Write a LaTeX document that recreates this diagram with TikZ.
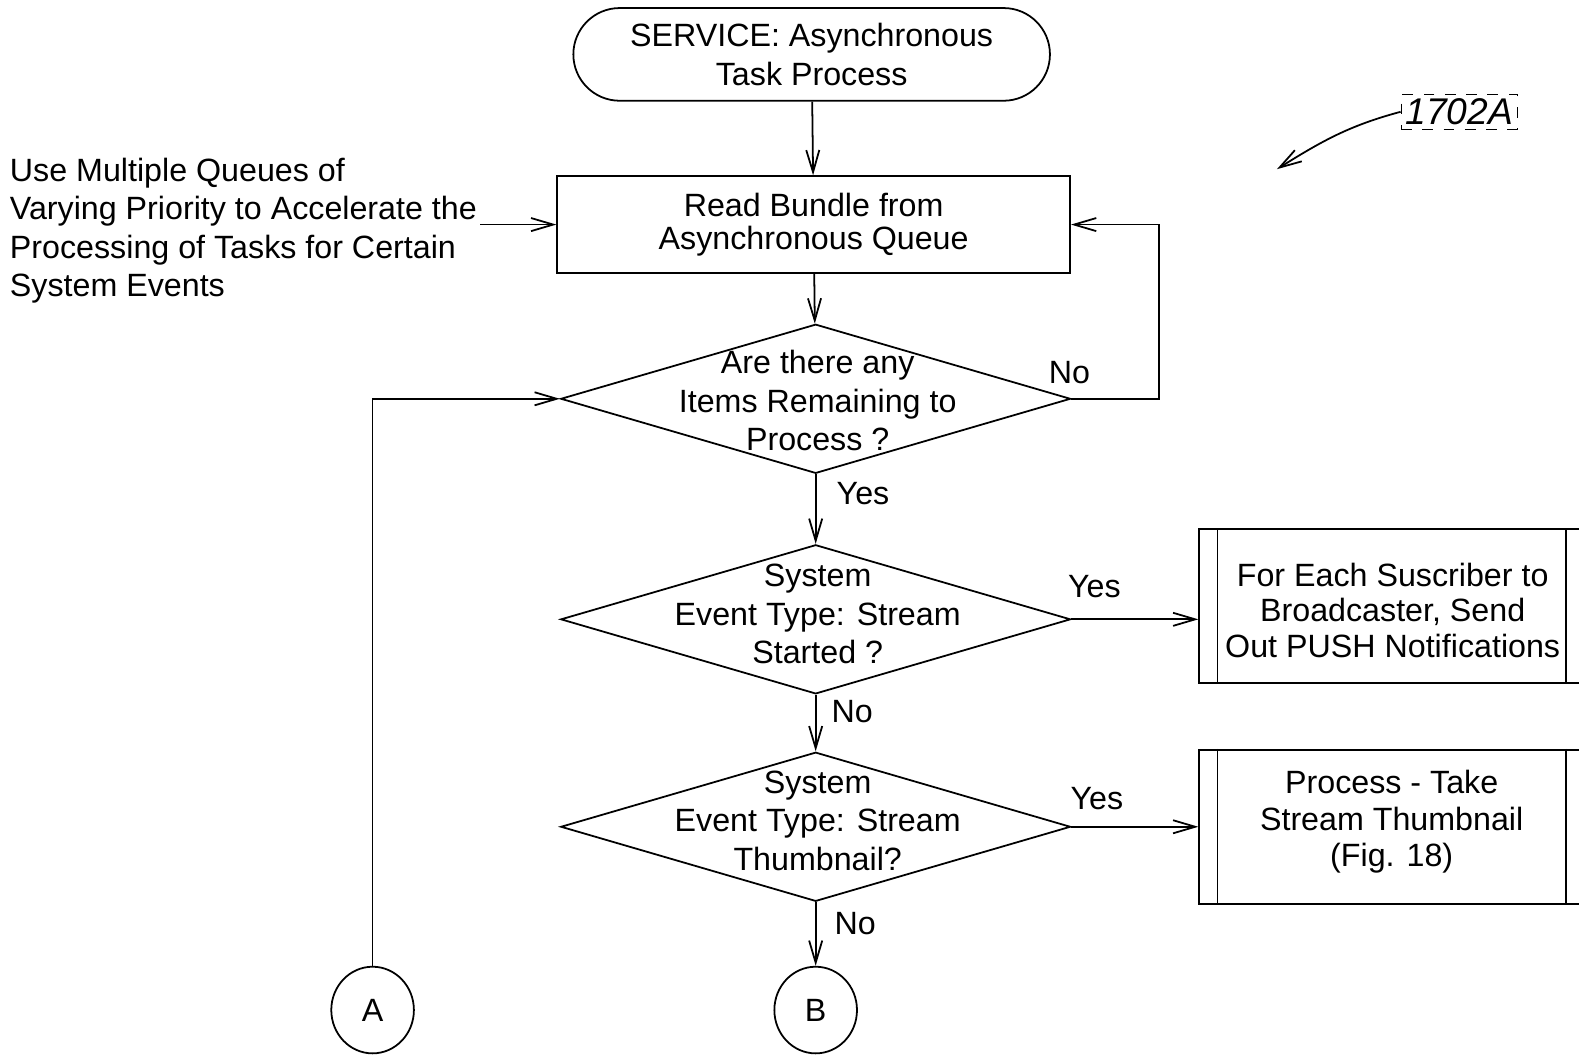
\documentclass[tikz,border=0pt]{standalone}
\usepackage{fontspec}
\setmainfont{Liberation Sans}
\usetikzlibrary{shapes,arrows.meta,positioning}
\tikzstyle{terminal} = [draw, rectangle, rounded corners=0.46cm, minimum width=4.73cm, minimum height=0.92cm, align=center]
\tikzstyle{block} = [draw, rectangle, minimum width=5.09cm, minimum height=0.96cm, align=center]
\tikzstyle{decision} = [draw, diamond, minimum width=5.06cm, minimum height=1.48cm, inner sep=0pt]
\tikzstyle{predef} = [draw, rectangle, minimum width=3.82cm, minimum height=1.53cm]
\tikzstyle{conn} = [draw, ellipse, minimum width=0.82cm, minimum height=0.86cm, inner sep=0pt]
\tikzstyle{txt} = [align=center, inner sep=0pt]
\tikzstyle{lbl} = [inner sep=0pt]

\begin{document}
\begin{tikzpicture}[x=0.01cm, y=-0.01cm, line width=0.5pt, ->, >={Straight Barb[length=2.2mm,width=1.3mm]},
  font=\fontsize{9.1pt}{10.9pt}\selectfont]

\useasboundingbox (0,0) rectangle (1568,1047);

\node[terminal] (start) at (806,54) {SERVICE: Asynchronous\\Task Process};
\node[block] (read) at (808,223) {Read Bundle from\\[-0.05cm]Asynchronous Queue};
\node[decision] (d1) at (810,396) {};
\node[txt] (d1t) at (812,398) {Are there any\\Items Remaining to\\Process ?};
\node[decision] (d2) at (810,615) {};
\node[txt] (d2t) at (812,610) {System\\Event Type: Stream\\Started ?};
\node[decision] (d3) at (810,821) {};
\node[txt] (d3t) at (812,815) {System\\Event Type: Stream\\Thumbnail?};

% predefined processes
\node[predef] (p1) at (1382,602) {};
\node[predef] (p2) at (1382,821) {};
\foreach \p in {p1,p2} {
  \draw[-] ([xshift=0.19cm]\p.north west) -- ([xshift=0.19cm]\p.south west);
  \draw[-] ([xshift=-0.19cm]\p.north east) -- ([xshift=-0.19cm]\p.south east);
}
\node[txt] (p1t) at (1383,606) {For Each Suscriber to\\[-0.03cm]Broadcaster, Send\\[-0.03cm]Out PUSH Notifications};
\node[txt] (p2t) at (1382,816) {Process - Take\\[-0.02cm]Stream Thumbnail\\[-0.02cm](Fig. 18)};

\node[conn] (A) at (370,1003) {A};
\node[conn] (B) at (810,1003) {B};

% side note
\node[lbl, align=left, anchor=west] (note) at (9,229)
  {Use Multiple Queues of\\Varying Priority to Accelerate the\\Processing of Tasks for Certain\\System Events};
\coordinate (noteend) at (477,223);

% reference label
\node[draw, dashed, line width=0.3pt, inner sep=1.2pt, font=\fontsize{10.5pt}{12pt}\selectfont\itshape] (ref) at (1449,111) {1702A};
\coordinate (reftip) at (1268,168);

\path
(start) edge (read)
(read) edge (d1)
(d1) edge node[lbl, pos=0.28, right=0.2cm] {Yes} (d2)
(d2) edge node[lbl, pos=0.3, right=0.15cm] {No} (d3)
(d3) edge node[lbl, pos=0.33, right=0.18cm] {No} (B)
(d2.east) edge node[lbl, pos=0.18, above=0.2cm] {Yes} (d2.east -| p1.west)
(d3.east) edge node[lbl, pos=0.2, above=0.16cm] {Yes} (p2)
(noteend) edge (read.west);

\draw (d1.east) -- ++(87,0) |- (read.east);
\node[lbl] (no1) at (1062,370) {No};
\draw (A.north) |- (d1.west);
\draw (ref.west) to[out=195, in=32] (reftip);

\end{tikzpicture}
\end{document}
